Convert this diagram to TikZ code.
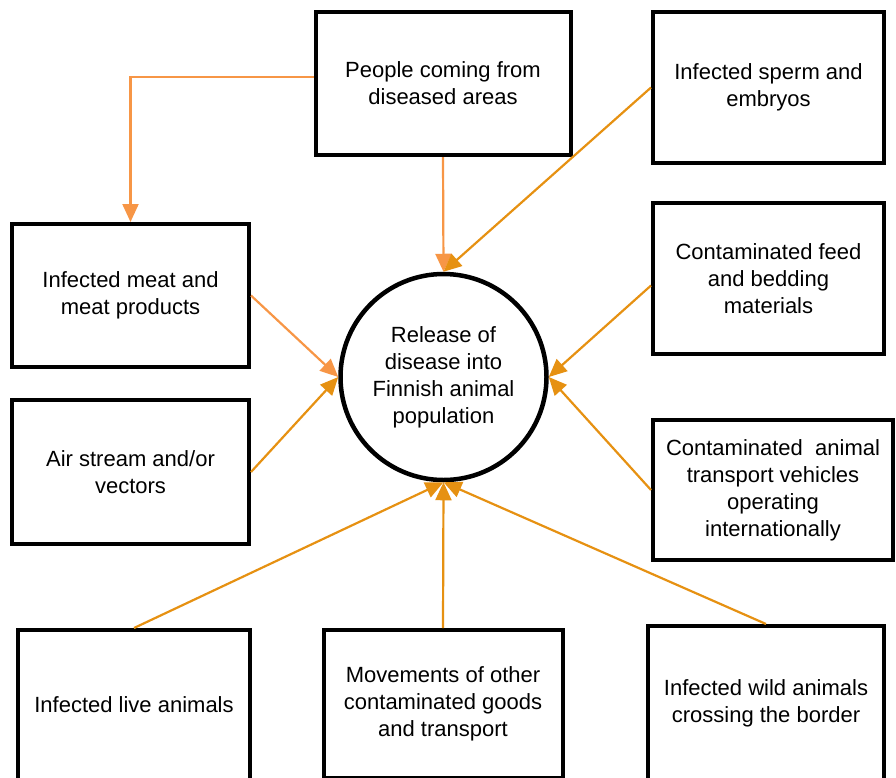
\documentclass[tikz,border=0pt]{standalone}
\usepackage{fontspec}
\setmainfont{Liberation Sans}
\usetikzlibrary{arrows.meta}
\definecolor{lightor}{RGB}{247,150,70}
\definecolor{darkor}{RGB}{230,145,18}
\begin{document}
\begin{tikzpicture}[x=1pt,y=-1pt,
  box/.style={draw=black,line width=4pt,fill=white,inner sep=0pt,align=center,
    font=\fontsize{22}{27}\selectfont},
  hub/.style={draw=black,line width=4.5pt,circle,minimum size=206pt,inner sep=0pt,align=center,
    font=\fontsize{22}{27}\selectfont},
  lightarrow/.style={draw=lightor,line width=2.2pt,-{Triangle[length=18pt,width=16pt]}},
  darkarrow/.style={draw=darkor,line width=2.2pt,-{Triangle[length=18pt,width=16pt]}}]
\useasboundingbox (0,0) rectangle (896,777);
\clip (0,0) rectangle (896,777);
\node[hub] (C) at (443.5,377) {Release of\\disease into\\Finnish animal\\population};
\node[box,minimum width=255pt,minimum height=143pt] (P) at (443,83.5) {People coming from\\diseased areas};
\node[box,minimum width=231pt,minimum height=151pt] (S) at (768.5,87.5) {Infected sperm and\\embryos};
\node[box,minimum width=237pt,minimum height=143pt] (M) at (130.5,295.5) {Infected meat and\\meat products};
\node[box,minimum width=231pt,minimum height=151pt] (F) at (768.5,278.5) {Contaminated feed\\and bedding\\materials};
\node[box,minimum width=237pt,minimum height=144pt] (A) at (130.5,472) {Air stream and/or\\vectors};
\node[box,minimum width=240pt,minimum height=140pt] (T) at (773,490) {Contaminated\ \ animal\\transport vehicles\\operating\\internationally};
\node[box,minimum width=232pt,minimum height=150pt] (L) at (134,705) {Infected live animals};
\node[box,minimum width=239pt,minimum height=148pt] (V) at (443,704) {Movements of other\\contaminated goods\\and transport};
\node[box,minimum width=236pt,minimum height=154pt] (W) at (766,703) {Infected wild animals\\crossing the border};
\draw[lightarrow] (P.south) -- (C.north);
\draw[lightarrow] ([yshift=6.5pt]P.west) -| (M.north);
\draw[lightarrow] (M.east) -- (C.west);
\draw[darkarrow] (S.west) -- (C.north);
\draw[darkarrow] ([yshift=-7pt]F.west) -- (C.east);
\draw[darkarrow] (A.east) -- (C.west);
\draw[darkarrow] (T.west) -- (C.east);
\draw[darkarrow] (L.north) -- (C.south);
\draw[darkarrow] (V.north) -- (C.south);
\draw[darkarrow] (W.north) -- (C.south);
\end{tikzpicture}
\end{document}
